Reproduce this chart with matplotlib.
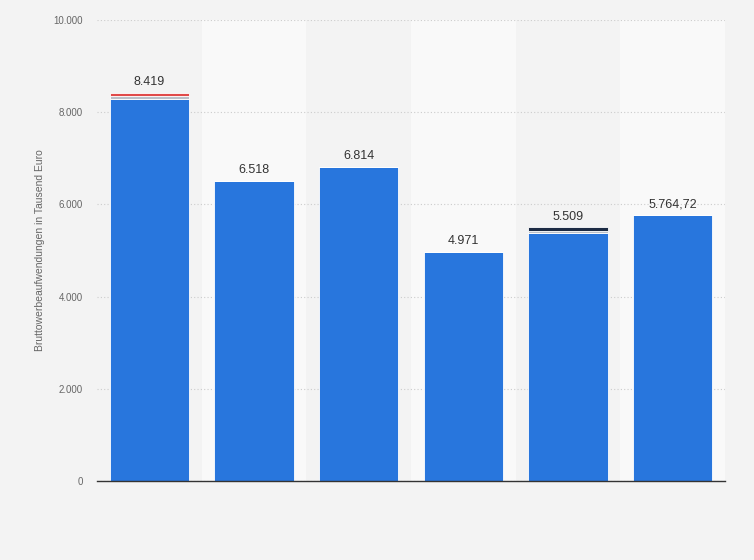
import matplotlib.pyplot as plt
import numpy as np

plt.rcParams["font.family"] = ["Liberation Sans", "DejaVu Sans"]

# values (Tausend Euro)
labels = ["8.419", "6.518", "6.814", "4.971", "5.509", "5.764,72"]
totals = [8419, 6518, 6814, 4971, 5509, 5764.72]
blue = [8280, 6518, 6814, 4971, 5390, 5764.72]
gray = [80, 0, 0, 0, 40, 0]
top = [59, 0, 0, 0, 79, 0]
top_colors = ["#e04a4a", "#2876dd", "#2876dd", "#2876dd", "#1c2b44", "#2876dd"]

fig = plt.figure(figsize=(7.54, 5.6), dpi=100)
fig.patch.set_facecolor("#f3f3f3")
ax = fig.add_axes([0.1286, 0.1411, 0.8329, 0.8232])
ax.set_facecolor("#f3f3f3")

x = np.arange(len(totals))
# alternating column bands
for i in x:
    if i % 2 == 1:
        ax.axvspan(i - 0.5, i + 0.5, color="#f9f9f9", zorder=0, lw=0)

ax.set_xlim(-0.5, len(totals) - 0.5)
ax.set_ylim(0, 10000)
ax.set_yticks(np.arange(0, 10001, 2000))
ax.set_yticklabels(["0", "2.000", "4.000", "6.000", "8.000", "10.000"])
ax.yaxis.grid(True, color="#cccccc", linestyle=(0, (1, 2)), linewidth=0.8)
ax.set_axisbelow(True)

w = 0.76
ax.bar(x, blue, width=w, color="#2876dd", edgecolor="white", linewidth=0.6, zorder=2)
ax.bar(x, gray, bottom=blue, width=w, color="#b9bfc8", edgecolor="white", linewidth=0.6, zorder=2)
ax.bar(x, top, bottom=np.array(blue) + np.array(gray), width=w, color=top_colors,
       edgecolor="white", linewidth=0.6, zorder=2)

for xi, t, lab in zip(x, totals, labels):
    ax.text(xi, t + 95, lab, ha="center", va="bottom", fontsize=9, color="#333333")

for s in ["top", "right", "left"]:
    ax.spines[s].set_visible(False)
ax.spines["bottom"].set_color("#333333")
ax.spines["bottom"].set_linewidth(1)
ax.set_xticks([])
ax.tick_params(axis="y", length=0, labelsize=7, labelcolor="#666666", pad=10)
ax.set_ylabel("Bruttowerbeaufwendungen in Tausend Euro", fontsize=7.5, color="#666666", labelpad=6)

fig.savefig("out.png", dpi=100, facecolor=fig.get_facecolor())
